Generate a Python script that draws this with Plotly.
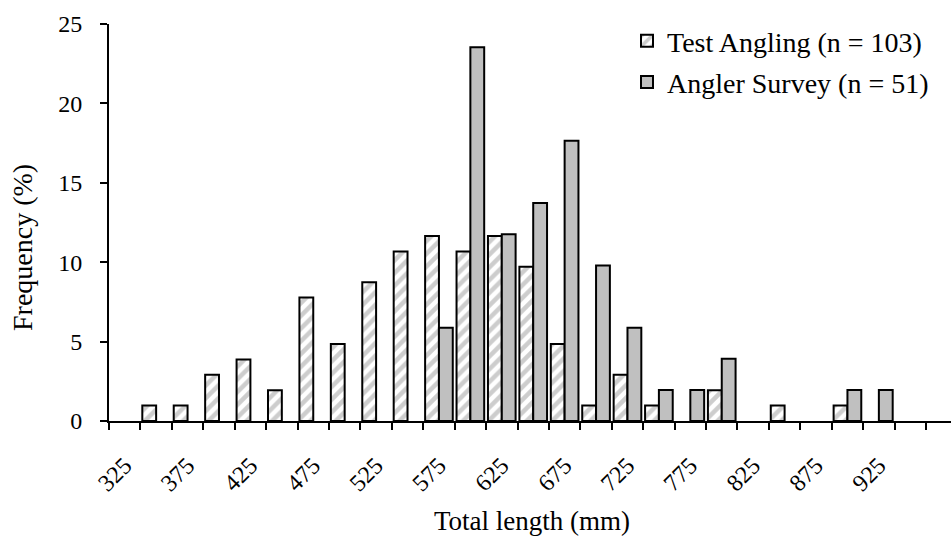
import plotly.graph_objects as go

# Bin centres (mm)
bins = [325, 350, 375, 400, 425, 450, 475, 500, 525, 550, 575, 600, 625,
        650, 675, 700, 725, 750, 775, 800, 825, 850, 875, 900, 925, 950]

# Frequency (%) per bin
test_angling = [None, 0.97, 0.97, 2.91, 3.88, 1.94, 7.77, 4.85, 8.74, 10.68,
                11.65, 10.68, 11.65, 9.71, 4.85, 0.97, 2.91, 0.97, None, 1.94,
                None, 0.97, None, 0.97, None, None]
angler_survey = [None, None, None, None, None, None, None, None, None, None,
                 5.88, 23.53, 11.76, 13.73, 17.65, 9.80, 5.88, 1.96, 1.96, 3.92,
                 None, None, None, 1.96, 1.96, None]

label_vals = [325, 375, 425, 475, 525, 575, 625, 675, 725, 775, 825, 875, 925]
label_text = [str(v) for v in label_vals]
boundaries = [312.5 + 25 * k for k in range(28)]

y_ticks = [0, 5, 10, 15, 20, 25]

FONT = "Liberation Serif, Times New Roman, serif"

fig = go.Figure()
fig.add_trace(go.Bar(
    x=bins, y=test_angling, name="Test Angling (n = 103)",
    legendgroup="a",
    marker=dict(color="white",
                line=dict(color="black", width=2),
                pattern=dict(shape="/", fgcolor="#9c9c9c", bgcolor="white",
                             size=9, solidity=0.5)),
))
fig.add_trace(go.Bar(
    x=bins, y=angler_survey, name="Angler Survey (n = 51)",
    legendgroup="b",
    marker=dict(color="#c0c0c0", line=dict(color="black", width=2)),
))

W, H = 951, 539
L, R, T, B = 109, 0, 24, 118
plot_w = W - L - R
plot_h = H - T - B
px_per_bin = (926 - 109) / 26.0
x_max = 312.5 + 25 * plot_w / px_per_bin

fig.update_layout(
    width=W, height=H,
    margin=dict(l=L, r=R, t=T, b=B),
    paper_bgcolor="white", plot_bgcolor="white",
    barmode="group", bargap=0.12, bargroupgap=0.0,
    font=dict(family=FONT, size=24, color="black"),
    showlegend=True,
    legend=dict(x=(627 - L) / plot_w, xanchor="left",
                y=1.0 + 8 / plot_h, yanchor="top",
                xref="paper", yref="paper",
                font=dict(family=FONT, size=28, color="black"),
                bgcolor="rgba(0,0,0,0)", borderwidth=0,
                traceorder="grouped", tracegroupgap=2,
                itemclick=False),
    xaxis=dict(
        range=[312.5, x_max],
        tickmode="array", tickvals=label_vals, ticktext=label_text,
        tickangle=-45, ticks="", ticklabelstandoff=19,
        tickfont=dict(family=FONT, size=24, color="black"),
        minor=dict(tickmode="array", tickvals=boundaries, ticks="outside",
                   ticklen=7, tickwidth=2, tickcolor="black", showgrid=False),
        showline=True, linecolor="black", linewidth=2,
        showgrid=False, zeroline=False,
    ),
    yaxis=dict(
        range=[0, 25], tickmode="array", tickvals=y_ticks,
        ticks="outside", ticklen=7, tickwidth=2, tickcolor="black",
        ticklabelstandoff=13,
        tickfont=dict(family=FONT, size=24, color="black"),
        showline=True, linecolor="black", linewidth=2,
        showgrid=False, zeroline=False,
    ),
    annotations=[
        dict(text="Total length (mm)", xref="paper", yref="paper",
             x=(532 - L) / plot_w, y=(421 - 521) / plot_h,
             xanchor="center", yanchor="middle",
             showarrow=False, font=dict(family=FONT, size=27, color="black")),
        dict(text="Frequency (%)", xref="paper", yref="paper",
             x=(22 - L) / plot_w, y=(421 - 248) / plot_h,
             xanchor="center", yanchor="middle", textangle=-90,
             showarrow=False, font=dict(family=FONT, size=28, color="black")),
    ],
)

fig.write_html("out.html")
